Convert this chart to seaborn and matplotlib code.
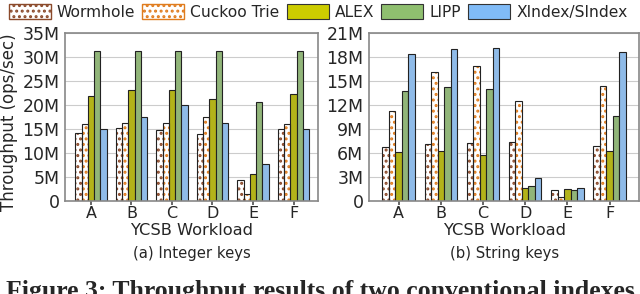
import pandas as pd
import matplotlib.pyplot as plt
import seaborn as sns
from matplotlib.patches import Patch, Rectangle

workloads = ['A', 'B', 'C', 'D', 'E', 'F']
indexes = ['Wormhole', 'Cuckoo Trie', 'ALEX', 'LIPP', 'XIndex/SIndex']

# throughput in millions of ops/sec
int_wormhole = [14.2, 15.3, 14.8, 13.9, 4.3, 15.0]
int_cuckoo = [16.0, 16.3, 16.3, 17.5, 1.5, 16.1]
int_alex = [21.9, 23.1, 23.1, 21.2, 5.7, 22.3]
int_lipp = [31.2, 31.2, 31.2, 31.2, 20.7, 31.2]
int_xindex = [15.0, 17.5, 20.0, 16.3, 7.7, 15.1]

str_wormhole = [6.8, 7.1, 7.2, 7.4, 1.4, 6.9]
str_cuckoo = [11.3, 16.2, 16.9, 12.5, 0.5, 14.4]
str_alex = [6.1, 6.3, 5.8, 1.6, 1.5, 6.2]
str_lipp = [13.8, 14.2, 14.0, 1.9, 1.3, 10.6]
str_sindex = [18.45, 19.0, 19.1, 2.9, 1.55, 18.7]

colors = ['white', 'white', '#cccc00', '#8fbf6f', '#80bbf7']
hatch_colors = {'Wormhole': '#8b4a2b', 'Cuckoo Trie': '#e07c1e'}


def to_long(series):
    rows = []
    for name, vals in zip(indexes, series):
        for w, v in zip(workloads, vals):
            rows.append({'Workload': w, 'Index': name, 'Throughput': v * 1e6})
    return pd.DataFrame(rows)


df_int = to_long([int_wormhole, int_cuckoo, int_alex, int_lipp, int_xindex])
df_str = to_long([str_wormhole, str_cuckoo, str_alex, str_lipp, str_sindex])

sns.set_theme(style="whitegrid")
plt.rcParams['font.family'] = ['DejaVu Sans']
plt.rcParams['hatch.linewidth'] = 1.4

fig = plt.figure(figsize=(6.4, 2.94), dpi=100)
ax1 = fig.add_axes([0.1016, 0.317, 0.395, 0.570])
ax2 = fig.add_axes([0.5766, 0.317, 0.422, 0.570])


def draw(ax, df, ymax, step, xlim, sub):
    sns.barplot(data=df, x='Workload', y='Throughput', hue='Index', hue_order=indexes,
                palette=colors, width=0.77, gap=0, legend=False, ax=ax,
                edgecolor='#222222', linewidth=0.8)
    for name, cont in zip(indexes, ax.containers):
        for p in cont:
            if name in hatch_colors:
                p.set_hatch('...')
                p.set_edgecolor(hatch_colors[name])
                p.set_linewidth(0)
                ax.add_patch(Rectangle(p.get_xy(), p.get_width(), p.get_height(),
                                       fill=False, ec='#222222', lw=0.8, zorder=p.get_zorder() + 0.1))
    ax.set_ylim(0, ymax)
    ax.set_xlim(*xlim)
    ticks = list(range(0, int(ymax / 1e6) + 1, step))
    ax.set_yticks([t * 1e6 for t in ticks])
    ax.set_yticklabels(['0' if t == 0 else f'{t}M' for t in ticks])
    ax.grid(axis='y', color='#cccccc', lw=0.8)
    ax.grid(axis='x', visible=False)
    ax.set_axisbelow(True)
    for s in ax.spines.values():
        s.set_color('#888888')
        s.set_linewidth(1.2)
    ax.tick_params(axis='y', labelsize=12.5, pad=1, length=3, color='#555555')
    ax.tick_params(axis='x', labelsize=11.5, pad=1, length=3, color='#555555', bottom=True)
    ax.set_xlabel('YCSB Workload', fontsize=11.7, labelpad=1)
    ax.set_ylabel('')
    ax.text(0.5, -0.27, sub, transform=ax.transAxes, ha='center', va='top', fontsize=10.7)


draw(ax1, df_int, 35e6, 5, (-0.64, 5.6), '(a) Integer keys')
draw(ax2, df_str, 21e6, 3, (-0.7, 5.7), '(b) String keys')
ax1.set_ylabel('Throughput (ops/sec)', fontsize=12)
ax1.yaxis.set_label_coords(-0.185, 0.47)

handles = []
for name, c in zip(indexes, colors):
    if name in hatch_colors:
        handles.append(Patch(facecolor='white', edgecolor=hatch_colors[name], hatch='...', lw=1))
    else:
        handles.append(Patch(facecolor=c, edgecolor='#333333', lw=0.8))
fig.legend(handles, indexes, loc='upper center', bbox_to_anchor=(0.497, 1.025), ncol=5,
           frameon=False, fontsize=11.2, handlelength=2.7, handleheight=1.2,
           columnspacing=0.45, handletextpad=0.4, borderaxespad=0.3)

fig.text(0.5, 1 - 280 / 294, 'Figure 3: Throughput results of two conventional indexes',
         ha='center', va='top', fontsize=18.5, fontweight='bold', family='Liberation Serif')

fig.savefig('out.png', dpi=100)
